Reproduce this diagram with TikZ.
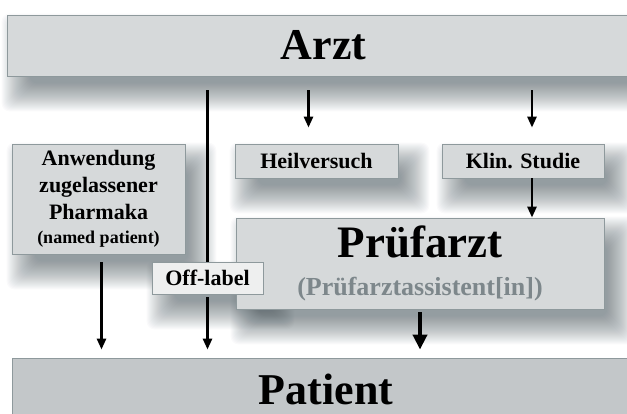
\documentclass[tikz,border=0pt]{standalone}
\usepackage{fontspec}
\setmainfont{Liberation Serif}
\usepackage{xcolor}
\usepackage{tikz}
\usetikzlibrary{positioning,arrows.meta,backgrounds}
\definecolor{boxgray}{HTML}{D6D9DA}
\definecolor{patgray}{HTML}{C3C7C9}
\definecolor{edgegray}{HTML}{8E999C}
\definecolor{offgray}{HTML}{EEEFEF}
\definecolor{subgray}{HTML}{7D878B}
\definecolor{shadegray}{HTML}{3F4E55}
\newcommand{\bigfont}{\fontsize{44}{50}\selectfont\bfseries}
\newcommand{\midfont}{\fontsize{22}{27}\selectfont\bfseries}
% soft shadow below and right of a named node
\newcommand{\castshadow}[1]{
  \foreach \r in {-10,-9,...,18}
    \fill[shadegray, opacity=0.025, rounded corners=8pt]
      ([shift={(13-\r,-17+\r)}]#1.north west) rectangle ([shift={(13+\r,-17-\r)}]#1.south east);
}

\begin{document}
\begin{tikzpicture}[
  x=1pt, y=1pt,
  >={Triangle[length=11pt,width=9pt]},
  font=\midfont,
  actor/.style={
    rectangle, draw=edgegray, line width=0.8pt, fill=boxgray,
    font=\bigfont, inner sep=0pt
  },
  branch/.style={
    rectangle, draw=edgegray, line width=0.8pt, fill=boxgray,
    align=center, inner sep=0pt
  },
  offbox/.style={
    rectangle, draw=edgegray, line width=0.8pt, fill=offgray,
    inner sep=0pt
  },
  flow/.style={->, line width=2.6pt},
  bigflow/.style={-{Triangle[length=15pt,width=14pt]}, line width=3.8pt}
]
\useasboundingbox (0,0) rectangle (627,-414);

\node[actor, minimum width=633, minimum height=61] (A) at (323.5, -45.5) {Arzt};

\node[branch, minimum width=163, minimum height=34] (H) at (316.5, -161) {Heilversuch};
\node[branch, minimum width=162, minimum height=34] (K) at (523, -161) {Klin. Studie};

\node[branch, minimum width=173, minimum height=110] (W) at (98.5, -199) {
  Anwendung \\ zugelassener \\ Pharmaka \\[-3pt]
  {\fontsize{18}{22}\selectfont (named patient)}
};

\node[branch, minimum width=368, minimum height=91] (PF) at (420, -263.5) {
  {\fontsize{45}{50}\selectfont Prüfarzt} \\[11pt]
  {\fontsize{26}{30}\selectfont\color{subgray} (Prüfarztassistent[in])}
};

\node[offbox, minimum width=111, minimum height=32] (O) at (207.5, -278) {Off-label};

\node[actor, fill=patgray, minimum width=628, minimum height=62] (P) at (326, -389) {Patient};

\begin{pgfonlayer}{background}
  \fill[white] (0,0) rectangle (627,-414);
  \castshadow{A}
  \castshadow{H}
  \castshadow{K}
  \castshadow{W}
  \castshadow{PF}
  \castshadow{O}
\end{pgfonlayer}

\draw[line width=2.6pt, shorten <=14pt] (A.south -| O.north) -- (O.north);
\draw[flow, shorten <=14pt, shorten >=16pt] ([xshift=-8pt]H.north |- A.south) -- ([xshift=-8pt]H.north);
\draw[flow, shorten <=14pt, shorten >=16pt] ([xshift=9pt]K.north |- A.south) -- ([xshift=9pt]K.north);
\draw[flow] ([xshift=9pt]K.south) -- ([xshift=9pt]K.south |- PF.north);

\draw[flow, shorten <=8pt, shorten >=8pt] ([xshift=3pt]W.south) -- ([xshift=3pt]W.south |- P.north);
\draw[flow, shorten <=3pt, shorten >=8pt] (O.south) -- (O.south |- P.north);
\draw[bigflow, shorten <=3pt, shorten >=8pt] (PF.south) -- (PF.south |- P.north);

\end{tikzpicture}
\end{document}
